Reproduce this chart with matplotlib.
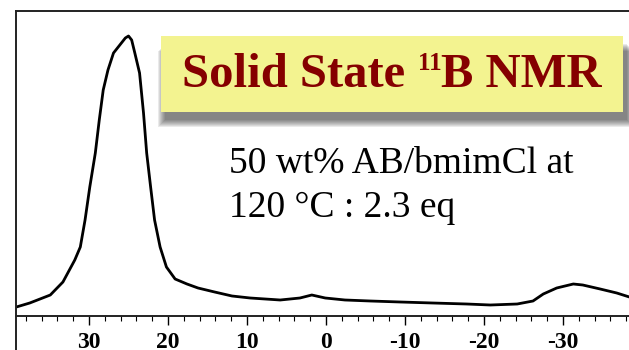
import matplotlib
matplotlib.use('Agg')
import matplotlib.pyplot as plt
from matplotlib.patches import Rectangle
from matplotlib.ticker import MultipleLocator
import numpy as np

matplotlib.rcParams['font.family'] = 'Liberation Serif'

# 11B spectrum (ppm, intensity a.u.)
ppm = [39.2, 37.5, 36.2, 34.9, 33.3, 31.8, 31.1, 30.5, 29.9, 29.2, 28.7,
       28.2, 27.6, 26.9, 26.1, 25.4, 25.0, 24.6, 24.2, 23.6, 23.1, 22.7,
       22.2, 21.7, 21.0, 20.2, 19.1, 17.6, 16.2, 14.1, 11.9, 9.6, 5.8,
       3.3, 1.8, 0.1, -2.4, -5.6, -9.4, -13.5, -17.8, -20.8, -24.2, -26.2,
       -27.5, -29.2, -31.3, -32.5, -34.7, -36.8, -38.4]
intensity = [9, 13, 17, 21, 34, 56, 69, 96, 129, 163, 196,
             226, 246, 263, 271, 278, 280, 276, 263, 243, 203, 163,
             129, 96, 69, 49, 37, 32, 28, 24, 20, 18, 16,
             18, 21, 18, 16, 15, 14, 13, 12, 11, 12, 15,
             22, 28, 32, 31, 27, 23, 19]

major_ticks = [30, 20, 10, 0, -10, -20, -30]
tick_labels = ['30', '20', '10', '0', '-10', '-20', '-30']

title_parts = ['Solid State ', '11', 'B NMR']
note_lines = ['50 wt% AB/bmimCl at', '120 \u00b0C : 2.3 eq']

W, H = 629, 350


def px(x, y):
    # pixel (from top-left) -> figure fraction
    return x / W, 1 - y / H


def draw_title(fig, cx, base_y, sup_y):
    r = fig.canvas.get_renderer()
    sizes = [35, 18, 35]
    texts = []
    for part, fs in zip(title_parts, sizes):
        t = fig.text(0, 0, part, color='#850000', fontsize=fs,
                     fontweight='bold', ha='left', va='baseline')
        texts.append(t)
    widths = [t.get_window_extent(r).width for t in texts]
    x = cx - sum(widths) / 2
    for t, w, yy in zip(texts, widths, [base_y, sup_y, base_y]):
        t.set_position(px(x, yy))
        x += w


def figure_1():
    fig = plt.figure(figsize=(W / 100, H / 100), dpi=100)
    ax = fig.add_axes([16 / W, 34 / H, (W - 16) / W, 305 / H])
    ax.plot(ppm, intensity, color='black', lw=2.0)
    ax.set_xlim(39.24, -38.35)
    ax.set_ylim(0, 305)

    ax.spines['right'].set_visible(False)
    for s in ['left', 'top', 'bottom']:
        ax.spines[s].set_linewidth(1.4)
        ax.spines[s].set_color('#222222')
    ax.set_yticks([])
    ax.set_xticks(major_ticks)
    ax.set_xticklabels(tick_labels)
    ax.xaxis.set_minor_locator(MultipleLocator(2))
    ax.tick_params(axis='x', which='major', direction='out', length=6.5,
                   width=1.0, pad=5, labelsize=17)
    ax.tick_params(axis='x', which='minor', direction='out', length=3.5,
                   width=0.8)
    for lab in ax.get_xticklabels():
        lab.set_fontweight('bold')

    # left frame line runs on below the axis
    x0, y0 = px(16, 316)
    x1, y1 = px(16, 350)
    fig.add_artist(plt.Line2D([x0, x1], [y0, y1], color='#222222', lw=1.4))

    # title box with soft shadow
    left, top, right, bottom = 161, 36, 623, 112
    for k in range(7, -1, -1):
        sx, sy = px(left + 4 - k, bottom + 8 + k)
        fig.add_artist(Rectangle((sx, sy), (right - left + 2 * k) / W,
                                 (bottom - top) / H,
                                 facecolor='#202020', edgecolor='none',
                                 alpha=0.09, transform=fig.transFigure))
    bx, by = px(left, bottom)
    fig.add_artist(Rectangle((bx, by), (right - left) / W, (bottom - top) / H,
                             facecolor='#F3F390', edgecolor='none',
                             transform=fig.transFigure))
    draw_title(fig, 392, 87, 70)

    nx, ny = px(229, 173)
    fig.text(nx, ny, note_lines[0], fontsize=27, ha='left', va='baseline')
    nx, ny = px(229, 217)
    fig.text(nx, ny, note_lines[1], fontsize=27, ha='left', va='baseline')

    fig.savefig('out.png', dpi=100)


def main():
    figure_1()


if __name__ == '__main__':
    main()
